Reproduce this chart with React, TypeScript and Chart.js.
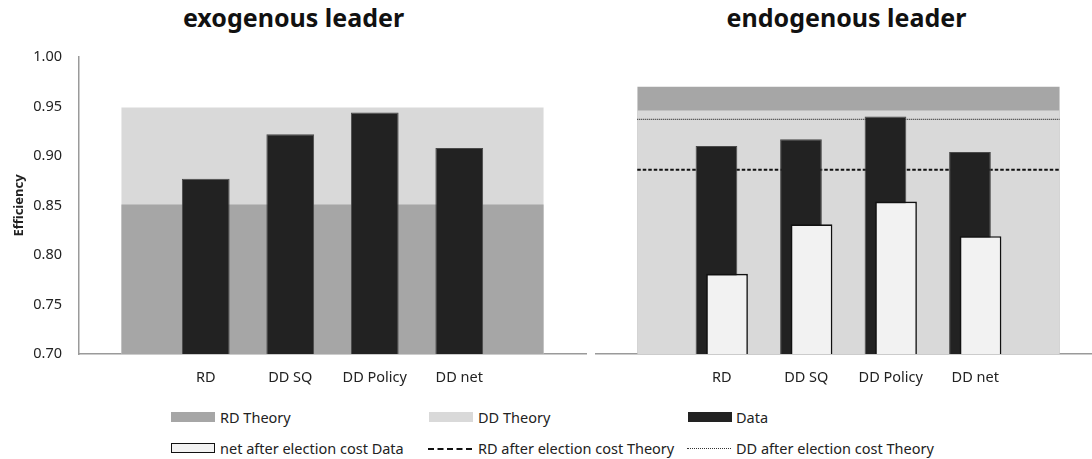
import React, { useEffect, useRef } from 'react';
import { Chart, registerables } from 'chart.js';

Chart.register(...registerables);

// ---------- data ----------
const categories = ['RD', 'DD SQ', 'DD Policy', 'DD net'];
const axisLabels = ['', ...categories, ''];

const exoData = [null, 0.877, 0.922, 0.944, 0.908, null];
const exoRdTheory = [0.851, 0.851, 0.851, 0.851, 0.851, 0.851];
const exoDdTheory = [0.949, 0.949, 0.949, 0.949, 0.949, 0.949];

const endoData = [null, 0.910, 0.917, 0.940, 0.904, null];
const endoNetData = [null, 0.781, 0.831, 0.854, 0.819, null];
const endoRdTheory = [0.970, 0.970, 0.970, 0.970, 0.970, 0.970];
const endoDdTheory = [0.946, 0.946, 0.946, 0.946, 0.946, 0.946];
const endoRdAfterCost = [0.886, 0.886, 0.886, 0.886, 0.886, 0.886];
const endoDdAfterCost = [0.937, 0.937, 0.937, 0.937, 0.937, 0.937];

const yMin = 0.7;
const yMax = 1.0;
const yStep = 0.05;

// ---------- styles ----------
const FONT = "'Noto Sans', sans-serif";
const TEXT = '#222';
const RD_COLOR = '#a6a6a6';
const DD_COLOR = '#d9d9d9';
const DATA_COLOR = '#222222';
const NET_COLOR = '#f2f2f2';
const AXIS_COLOR = '#9a9a9a';

const drawOnTop = {
  id: 'drawOnTop',
  beforeDatasetDraw(chart: any, args: any) {
    if (chart.data.datasets[args.index].onTop) return false;
  },
  afterDatasetsDraw(chart: any) {
    const { ctx, chartArea } = chart;
    chart.data.datasets.forEach((ds: any, i: number) => {
      if (ds.onTop && chart.isDatasetVisible(i)) {
        ctx.save();
        ctx.beginPath();
        ctx.rect(chartArea.left, chartArea.top - 2, chartArea.right - chartArea.left, chartArea.bottom - chartArea.top + 2);
        ctx.clip();
        chart.getDatasetMeta(i).controller.draw();
        ctx.restore();
      }
    });
  },
};

function band(values: number[], color: string, order: number) {
  return {
    type: 'line',
    data: values,
    fill: 'start',
    backgroundColor: color,
    borderWidth: 0,
    borderColor: color,
    pointRadius: 0,
    order,
  };
}

function xScale() {
  return {
    type: 'category',
    offset: true,
    grid: { display: true, color: 'transparent', drawTicks: false },
    border: { display: true, color: AXIS_COLOR, width: 1.5 },
    ticks: { color: TEXT, font: { family: FONT, size: 14.5 }, padding: 15, maxRotation: 0, autoSkip: false },
    afterFit: (s: any) => { s.height = 46; },
  };
}

function yScale(show: boolean) {
  const s: any = {
    display: show,
    min: yMin,
    max: yMax,
    grid: { display: true, color: 'transparent', drawTicks: false },
    border: { display: true, color: AXIS_COLOR, width: 1.5 },
    ticks: {
      stepSize: yStep,
      color: TEXT,
      font: { family: FONT, size: 14.5 },
      padding: 17,
      callback: (v: any) => Number(v).toFixed(2),
    },
    title: {
      display: show,
      text: 'Efficiency',
      color: TEXT,
      font: { family: FONT, size: 13, weight: 'bold' },
      padding: { top: 11, bottom: 0 },
    },
  };
  if (show) s.afterFit = (sc: any) => { sc.width = 79; };
  return s;
}

function useChart(ref: React.RefObject<HTMLCanvasElement>, makeConfig: () => any) {
  useEffect(() => {
    if (!ref.current) return;
    const chart = new Chart(ref.current, makeConfig());
    return () => chart.destroy();
  }, []);
}

export default function App() {
  const leftRef = useRef<HTMLCanvasElement>(null);
  const rightRef = useRef<HTMLCanvasElement>(null);

  useEffect(() => {
    document.body.style.margin = '0';
    document.body.style.overflow = 'hidden';
  }, []);

  useChart(leftRef, () => ({
    type: 'bar',
    data: {
      labels: axisLabels,
      datasets: [
        {
          type: 'bar',
          label: 'Data',
          data: exoData,
          backgroundColor: DATA_COLOR,
          borderColor: '#4a4a4a',
          borderWidth: 1,
          categoryPercentage: 1,
          barPercentage: 0.565,
          order: 1,
        },
        { ...band(exoRdTheory, RD_COLOR, 3), label: 'RD Theory' },
        { ...band(exoDdTheory, DD_COLOR, 4), label: 'DD Theory' },
      ],
    },
    options: {
      animation: false,
      responsive: false,
      maintainAspectRatio: false,
      layout: { padding: { top: 57, left: 0, right: 9, bottom: 0 } },
      plugins: { legend: { display: false }, tooltip: { enabled: false } },
      scales: { x: xScale(), y: yScale(true) },
    },
  }));

  useChart(rightRef, () => ({
    type: 'bar',
    data: {
      labels: axisLabels,
      datasets: [
        {
          type: 'bar',
          label: 'Data',
          data: endoData,
          backgroundColor: DATA_COLOR,
          borderColor: '#4a4a4a',
          borderWidth: 1,
          categoryPercentage: 0.25,
          barPercentage: 3.95,
          order: 1,
        },
        {
          type: 'bar',
          label: 'net after election cost Data',
          data: endoNetData,
          backgroundColor: NET_COLOR,
          borderColor: '#111',
          borderWidth: 1.6,
          categoryPercentage: 0.25,
          barPercentage: 3.95,
          order: 2,
          onTop: true,
        },
        {
          type: 'line',
          label: 'DD after election cost Theory',
          data: endoDdAfterCost,
          borderColor: '#333',
          borderWidth: 1.2,
          borderDash: [1, 1],
          pointRadius: 0,
          fill: false,
          order: 3,
        },
        {
          type: 'line',
          label: 'RD after election cost Theory',
          data: endoRdAfterCost,
          borderColor: '#111',
          borderWidth: 2,
          borderDash: [3.5, 2],
          pointRadius: 0,
          fill: false,
          order: 4,
        },
        { ...band(endoDdTheory, DD_COLOR, 5), label: 'DD Theory' },
        { ...band(endoRdTheory, RD_COLOR, 6), label: 'RD Theory' },
      ],
    },
    options: {
      animation: false,
      responsive: false,
      maintainAspectRatio: false,
      layout: { padding: { top: 57, left: 0, right: 0, bottom: 0 } },
      plugins: { legend: { display: false }, tooltip: { enabled: false } },
      scales: { x: xScale(), y: yScale(false) },
    },
    plugins: [drawOnTop],
  }));

  const textStyle: React.CSSProperties = {
    position: 'absolute',
    fontFamily: FONT,
    fontSize: '14.5px',
    color: TEXT,
    lineHeight: '20px',
    whiteSpace: 'nowrap',
  };

  const legendRow1 = 417;
  const legendRow2 = 448;

  const box = (left: number, cy: number, h: number, extra: React.CSSProperties) => (
    <div style={{ position: 'absolute', left, top: cy - h / 2, width: 44, height: h, boxSizing: 'border-box', ...extra }} />
  );
  const label = (left: number, cy: number, text: string) => (
    <div style={{ ...textStyle, left, top: cy - 10 }}>{text}</div>
  );

  const titleStyle = (cx: number): React.CSSProperties => ({
    position: 'absolute',
    left: cx - 200,
    width: 400,
    top: 4,
    textAlign: 'center',
    fontFamily: FONT,
    fontWeight: 'bold',
    fontSize: '25px',
    lineHeight: '26px',
    color: '#111',
  });

  return (
    <div style={{ position: 'relative', width: 1092, height: 459, overflow: 'hidden', background: '#fff' }}>
      <div style={titleStyle(293.5)}>exogenous leader</div>
      <div style={titleStyle(846.5)}>endogenous leader</div>
      <canvas ref={leftRef} width={595} height={400} style={{ position: 'absolute', left: 0, top: 0, width: 595, height: 400 }} />
      <canvas ref={rightRef} width={507} height={400} style={{ position: 'absolute', left: 595, top: 0, width: 507, height: 400 }} />

      {box(171, legendRow1, 10, { background: RD_COLOR })}
      {label(220, legendRow1, 'RD Theory')}
      {box(429, legendRow1, 10, { background: DD_COLOR })}
      {label(478, legendRow1, 'DD Theory')}
      {box(688, legendRow1, 10, { background: DATA_COLOR })}
      {label(736, legendRow1, 'Data')}

      {box(171, legendRow2, 10, { background: NET_COLOR, border: '1.6px solid #111' })}
      {label(220, legendRow2, 'net after election cost Data')}
      {box(428, legendRow2 + 1, 2, { borderTop: '2px dashed #111' })}
      {label(478, legendRow2, 'RD after election cost Theory')}
      {box(687, legendRow2 + 0.5, 1, { borderTop: '1px dotted #333' })}
      {label(736, legendRow2, 'DD after election cost Theory')}
    </div>
  );
}
